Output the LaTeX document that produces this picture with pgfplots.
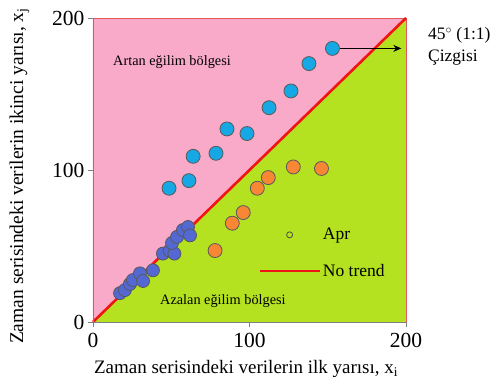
\documentclass[border=0pt]{standalone}
\usepackage{pgfplots}
\pgfplotsset{compat=1.18}
\usepackage{fontspec}
\setmainfont{Liberation Serif}
\usetikzlibrary{arrows.meta}
\definecolor{pinkc}{RGB}{248,170,200}
\definecolor{greenc}{RGB}{180,226,32}
\definecolor{bluec}{RGB}{22,168,228}
\definecolor{orangec}{RGB}{247,135,52}
\definecolor{purplec}{RGB}{84,104,212}
\definecolor{redc}{RGB}{240,20,20}
\definecolor{borderc}{RGB}{225,90,90}
\begin{document}
\begin{tikzpicture}
\useasboundingbox (-93pt,-61pt) rectangle (397pt,322pt);
\begin{axis}[
  at={(0,0)}, anchor=south west,
  scale only axis, width=313pt, height=304pt,
  xmin=0, xmax=200, ymin=0, ymax=200,
  axis lines*=left, axis on top=true,
  axis line style={gray, line width=0.9pt},
  tick style={gray, line width=0.9pt},
  tick align=outside, major tick length=5pt,
  xtick={0,100,200}, ytick={0,100,200},
  /pgf/number format/assume math mode=true,
  ticklabel style={font=\fontsize{21.5}{23}\selectfont},
  xticklabel style={yshift=-3pt},
  clip=false,
  xlabel={Zaman serisindeki verilerin ilk yarısı, x\textsubscript{i}},
  ylabel={Zaman serisindeki verilerin ikinci yarısı, x\textsubscript{j}},
  xlabel style={at={(axis description cs:0.489,-0.156)}, anchor=center, font=\fontsize{19}{22}\selectfont},
  ylabel style={at={(axis description cs:-0.235,0.48)}, anchor=center, font=\fontsize{19.5}{22}\selectfont},
  legend style={at={(0.518,0.322)}, anchor=north west, draw=none, fill=none,
    font=\fontsize{17.5}{20}\selectfont, row sep=19pt},
  legend cell align=left,
]
% regions
\addplot[fill=pinkc, draw=none, forget plot] coordinates {(0,0) (0,200) (200,200)} -- cycle;
\addplot[fill=greenc, draw=none, forget plot] coordinates {(0,0) (200,200) (200,0)} -- cycle;
\addplot[draw=borderc, line width=0.9pt, forget plot] coordinates {(0,200) (200,200) (200,0)};
% blue points (increasing)
\addplot[only marks, mark=*, mark size=7pt, mark options={fill=bluec, draw=gray!70!black, line width=0.8pt}, forget plot]
coordinates {(153,180) (138,170) (126.5,152) (112.5,141) (98.4,124) (85.6,127) (78.6,111) (64,109) (61.3,93) (48.6,88)};
% orange points (decreasing)
\addplot[only marks, mark=*, mark size=7pt, mark options={fill=orangec, draw=gray!70!black, line width=0.8pt}, forget plot]
coordinates {(146,101) (128,102) (112,95) (105,88) (96,72) (89,65) (78,47)};
% purple cluster near the line
\addplot[only marks, mark=*, mark size=6.5pt, mark options={fill=purplec, draw=gray!70!black, line width=0.8pt}, forget plot]
coordinates {(17.3,19) (20.4,21) (23.6,25) (25.5,27.6) (30,32) (32,27) (38.3,34) (44.7,45) (49,47) (52,45) (50.5,52) (53.7,56) (57.5,60.5) (60.7,62.5) (62,57)};
\addlegendimage{legend image code/.code={\draw[draw=gray!60!black, fill=none, line width=0.8pt] (30pt,0pt) circle (3pt); \path[draw=none, fill=none] (0pt,0pt) -- (60pt,0pt);}}
\addlegendentry{Apr}
\addplot[redc, line width=2.6pt, legend image code/.code={\draw[redc, line width=2.6pt] (0pt,0pt) -- (60pt,0pt);}] coordinates {(0,0) (200,200)};
\addlegendentry{No trend}
% annotations
\draw[-{Stealth[length=8pt,width=7pt]}, line width=0.8pt] (axis cs:157,180) -- (axis cs:197,180);
\node[anchor=north west, align=left, font=\fontsize{17.5}{22}\selectfont, inner sep=0pt] at (axis cs:214,194) {45$^\circ$ (1:1)\\Çizgisi};
\node[anchor=west, font=\fontsize{14.3}{16}\selectfont, inner sep=0pt] at (axis cs:12.8,171) {Artan eğilim bölgesi};
\node[anchor=west, font=\fontsize{14.3}{16}\selectfont, inner sep=0pt] at (axis cs:42.8,14) {Azalan eğilim bölgesi};
\end{axis}
\end{tikzpicture}
\end{document}
